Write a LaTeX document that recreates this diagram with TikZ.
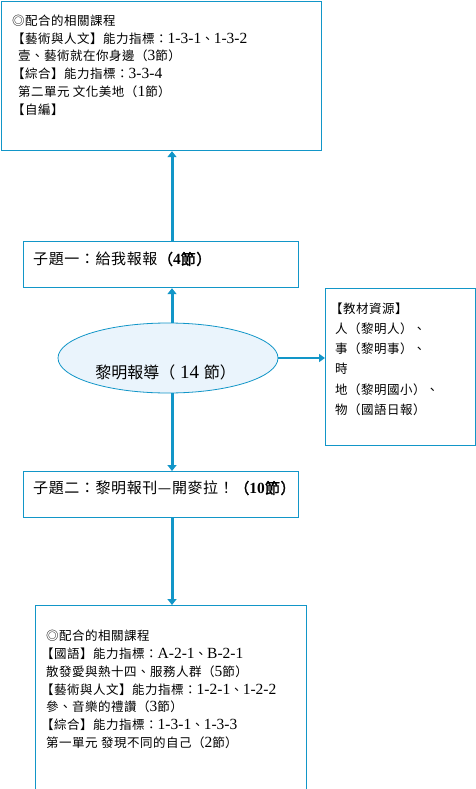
\documentclass[tikz,border=0pt]{standalone}
\usepackage{fontspec}
\setmainfont{Noto Sans CJK TC}[AutoFakeBold=2]
\newfontfamily\cjks{Noto Sans CJK TC}[LetterSpace=4,AutoFakeBold=2]
\newfontfamily\lat{Liberation Serif}
\usetikzlibrary{arrows.meta,shapes.geometric}
\definecolor{lineblue}{RGB}{18,150,200}
\definecolor{ellfill}{RGB}{234,244,252}
\newcommand{\dg}[1]{{\lat\fontsize{15.5}{15}\selectfont #1}}
\newcommand{\tsz}{\cjks\fontsize{12.5}{17.8}\selectfont}
\newcommand{\rsz}{\cjks\fontsize{12.5}{20.2}\selectfont}
\newcommand{\bsz}{\cjks\fontsize{15}{18}\selectfont}
\tikzset{
  boxnode/.style={draw=lineblue, line width=1.2pt, rectangle, inner sep=0pt, anchor=north west},
  txt/.style={inner sep=0pt, align=left, anchor=north west, font=\tsz},
  arr/.style={draw=lineblue, line width=3pt, -{Triangle[width=9pt,length=6pt]}},
  arrthin/.style={draw=lineblue, line width=2.2pt, -{Triangle[width=8pt,length=6pt]}}
}
\begin{document}
\begin{tikzpicture}[x=1pt,y=-1pt]
\useasboundingbox (0,0) rectangle (476,789);
\clip (0,0) rectangle (476,789);
\fill[white] (0,0) rectangle (476,789);
% boxes
\node[boxnode, minimum width=320pt, minimum height=149pt] (top) at (1,1) {};
\node[boxnode, minimum width=275pt, minimum height=46pt] (b1) at (23,241) {};
\node[draw=lineblue, line width=0.8pt, fill=ellfill, ellipse, minimum width=220pt, minimum height=70pt, inner sep=0pt] (ell) at (168,358) {};
\node[boxnode, minimum width=150pt, minimum height=157pt] (res) at (325,288) {};
\node[boxnode, minimum width=275pt, minimum height=46pt] (b2) at (23,471) {};
\node[boxnode, minimum width=271pt, minimum height=200pt] (bot) at (35,605) {};
\coordinate (ax) at (172,0);
% texts
\node[txt] (ttop) at (12,14.5) {◎配合的相關課程\\
【藝術與人文】能力指標：\dg{1-3-1}、\dg{1-3-2}\\
\hspace*{6pt}壹、藝術就在你身邊（\dg{3}節）\\
【綜合】能力指標：\dg{3-3-4}\\
\hspace*{6pt}第二單元 文化美地（\dg{1}節）\\
【自編】};
\node[inner sep=0pt, anchor=west, font=\bsz] (tb1) at (33,259) {子題一：給我報報\textbf{（{\lat\bfseries\fontsize{15.5}{15}\selectfont 4}節）}};
\node[inner sep=0pt, font=\fontsize{16}{18}\selectfont] (tell) at (165.5,372) {黎明報導（{\lat\fontsize{19}{18}\selectfont\ 14\ }節）};
\node[txt, font=\rsz] (tres) at (335,302.5) {\hspace*{-5pt}【教材資源】\\
人（黎明人）、\\
事（黎明事）、\\
時\\
地（黎明國小）、\\
物（國語日報）};
\node[inner sep=0pt, anchor=west, font=\bsz] (tb2) at (33,488) {子題二：黎明報刊—開麥拉！\textbf{（{\lat\bfseries\fontsize{15.5}{15}\selectfont 10}節）}};
\node[txt] (tbot) at (46,630) {◎配合的相關課程\\
\hspace*{-5pt}【國語】能力指標：\dg{A-2-1}、\dg{B-2-1}\\
散發愛與熱十四、服務人群（\dg{5}節）\\
\hspace*{-5pt}【藝術與人文】能力指標：\dg{1-2-1}、\dg{1-2-2}\\
參、音樂的禮讚（\dg{3}節）\\
\hspace*{-5pt}【綜合】能力指標：\dg{1-3-1}、\dg{1-3-3}\\
第一單元 發現不同的自己（\dg{2}節）};
% connectors
\draw[arr] (ell.north -| ax) -- (b1.south -| ax);
\draw[arr] (b1.north -| ax) -- (top.south -| ax);
\draw[arr] (ell.south -| ax) -- (b2.north -| ax);
\draw[arr] (b2.south -| ax) -- (bot.north -| ax);
\draw[arrthin] (ell.east) -- (res.west |- ell.east);
\end{tikzpicture}
\end{document}
